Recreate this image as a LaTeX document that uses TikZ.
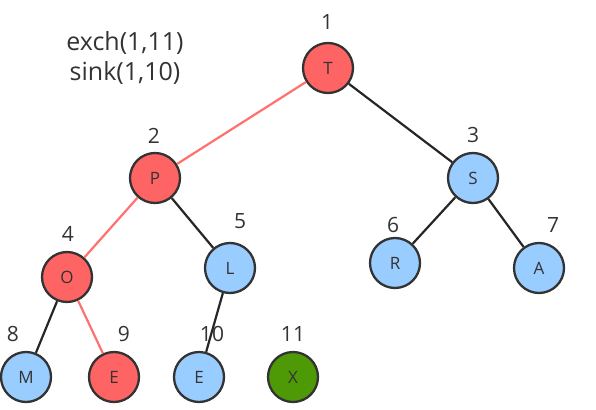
\documentclass[tikz,border=0pt]{standalone}
\usepackage{fontspec}
\setmainfont{Open Sans}
\definecolor{nred}{HTML}{FF6464}
\definecolor{nblue}{HTML}{99CCFF}
\definecolor{ngreen}{HTML}{4E9A06}
\definecolor{ink}{HTML}{333333}
\definecolor{redline}{HTML}{FF7070}
\begin{document}
\begin{tikzpicture}[x=1pt,y=-1pt,
  hnode/.style={circle,draw=ink,line width=2.3pt,minimum size=50pt,inner sep=0pt,font=\fontsize{17}{19}\selectfont,text=ink},
  rednode/.style={hnode,fill=nred},
  bluenode/.style={hnode,fill=nblue},
  greennode/.style={hnode,fill=ngreen},
  idx/.style={font=\fontsize{21}{23}\selectfont,text=ink},
  blk/.style={draw=black!85,line width=2.2pt},
  rd/.style={draw=redline,line width=2.2pt}]
\useasboundingbox (0,0) rectangle (596,409);
\node[rednode] (T) at (328,68) {T};
\node[rednode] (P) at (155,178) {P};
\node[bluenode] (S) at (473,178) {S};
\node[rednode] (O) at (67,277) {O};
\node[bluenode] (L) at (230,268) {L};
\node[bluenode] (R) at (395,263) {R};
\node[bluenode] (A) at (539,268) {A};
\node[bluenode] (M) at (26,377) {M};
\node[rednode] (E1) at (114,377) {E};
\node[bluenode] (E2) at (199,377) {E};
\node[greennode] (X) at (293,377) {X};
\node[idx] (l1) at (327,22) {1};
\node[idx] (l2) at (154,136) {2};
\node[idx] (l3) at (473,135) {3};
\node[idx] (l4) at (68,234) {4};
\node[idx] (l5) at (240,221) {5};
\node[idx] (l6) at (393,225) {6};
\node[idx] (l7) at (553,225) {7};
\node[idx] (l8) at (13,334) {8};
\node[idx] (l9) at (124,334) {9};
\node[idx] (l10) at (212,334) {10};
\node[idx] (l11) at (293,334) {11};
\node[font=\fontsize{25}{30}\selectfont,text=ink,align=center] (txt) at (125,58) {exch(1,11)\\sink(1,10)};
\draw[rd] (T) -- (P);
\draw[blk] (T) -- (S);
\draw[rd] (P) -- (O);
\draw[blk] (P) -- (L);
\draw[blk] (S) -- (R);
\draw[blk] (S) -- (A);
\draw[blk] (O) -- (M);
\draw[rd] (O) -- (E1);
\draw[blk] (L) -- (E2);
\end{tikzpicture}
\end{document}
